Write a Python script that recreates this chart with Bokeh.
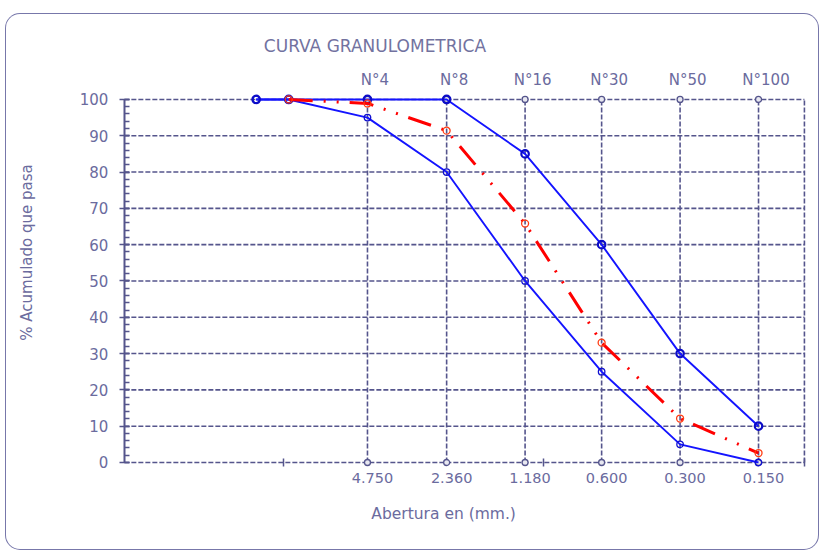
import math
from bokeh.plotting import figure
from bokeh.core.properties import value
from bokeh.models import (Range1d, FixedTicker, SingleIntervalTicker, LabelSet,
                          Label, ColumnDataSource)
from bokeh.embed import file_html
from bokeh.resources import INLINE

# ---------------- data ----------------
title_text = "CURVA GRANULOMETRICA"
x_title = "Abertura en (mm.)"
y_title = "% Acumulado que pasa"

sieve_names = ["N°4", "N°8", "N°16", "N°30", "N°50", "N°100"]
sieve_labels = ["4.750", "2.360", "1.180", "0.600", "0.300", "0.150"]
sieve_mm = [4.75, 2.36, 1.18, 0.60, 0.30, 0.15]

limit_mm = [12.7, 9.525, 4.75, 2.36, 1.18, 0.60, 0.30, 0.15]
upper_limit = [100, 100, 100, 100, 85, 60, 30, 10]
lower_limit = [100, 100, 95, 80, 50, 25, 5, 0]

sample_mm = [9.525, 4.75, 2.36, 1.18, 0.60, 0.30, 0.15]
sample_pass = [100, 98.9, 91.4, 65.8, 33.0, 12.1, 2.6]

y_ticks = [0, 10, 20, 30, 40, 50, 60, 70, 80, 90, 100]
decade_ticks = [10, 1, 0.1]
x_axis_start, x_axis_end = 40.7, 0.1     # extent of the plotting area (mm)
y_lo, y_hi = 0, 100

# ---------------- style ----------------
FONT = "DejaVu Sans"
TEXT = "#6b6b9e"
GRID = "#55558c"
BLUE = "#1414ff"
RED = "#ff0000"

p = figure(width=812, height=535, x_axis_type="log",
           x_range=Range1d(115.3, 0.0883), y_range=Range1d(-23.97, 123.4),
           output_backend="svg", toolbar_location=None,
           min_border=0, min_border_left=0, min_border_right=0,
           min_border_top=0, min_border_bottom=0)
p.styles = {"position": "relative", "top": "14px", "left": "6px",
            "border-radius": "14px", "box-shadow": "0 0 0 1px #7777aa"}
p.outline_line_color = None
p.xgrid.visible = False
p.ygrid.visible = False
p.background_fill_color = None
p.border_fill_color = None

# y axis, placed at the left edge of the plotting area
ya = p.yaxis[0]
ya.fixed_location = x_axis_start
ya.ticker = SingleIntervalTicker(interval=10, num_minor_ticks=5)
ya.bounds = (y_lo, y_hi)
ya.axis_line_color = GRID
ya.axis_line_width = 2
ya.major_tick_line_color = GRID
ya.major_tick_line_width = 1.5
ya.minor_tick_line_color = GRID
ya.minor_tick_line_width = 1.5
ya.major_tick_in = 5
ya.major_tick_out = 5
ya.minor_tick_in = 5
ya.minor_tick_out = 0
ya.major_label_text_font = FONT
ya.major_label_text_font_size = "15px"
ya.major_label_text_color = TEXT
ya.major_label_standoff = 11

# x axis (log, reversed), drawn on the 0 line
xa = p.xaxis[0]
xa.ticker = FixedTicker(ticks=decade_ticks)
xa.fixed_location = y_lo
xa.bounds = (x_axis_end, x_axis_start)
xa.axis_line_color = None
xa.major_tick_line_color = GRID
xa.major_tick_line_width = 1.5
xa.major_tick_in = 4
xa.major_tick_out = 4
xa.minor_tick_line_color = None
xa.major_label_text_color = None
xa.major_label_text_font_size = "1px"

# grid lines (dashed)
p.segment(x0=x_axis_start, x1=x_axis_end, y0=y_ticks, y1=y_ticks,
          line_color=GRID, line_width=1.6, line_dash="5 2")
p.segment(x0=sieve_mm + [x_axis_end], x1=sieve_mm + [x_axis_end],
          y0=y_lo, y1=y_hi, line_color=GRID, line_width=1.6, line_dash="5 2")
# small markers at the ends of the sieve lines
p.scatter(x=sieve_mm + sieve_mm, y=[y_hi] * 6 + [y_lo] * 6, marker="circle",
          size=6, line_color=GRID, line_width=1.3, fill_color="#e8e8f0")

# limit curves
p.line(limit_mm, lower_limit, line_color=BLUE, line_width=1.9)
p.scatter(limit_mm, lower_limit, marker="circle", size=6.5, line_color="#1010d0",
          line_width=1.3, fill_color=None)
p.line(limit_mm, upper_limit, line_color=BLUE, line_width=1.9)
p.scatter(limit_mm, upper_limit, marker="circle", size=7.5, line_color="#0c0cc8",
          line_width=2.2, fill_color=None)

# sample curve
p.line(sample_mm, sample_pass, line_color=RED, line_width=3,
       line_dash="24 11 2 11 2 11")
p.scatter(sample_mm, sample_pass, marker="circle", size=7, line_color="#ff3a10",
          line_width=1.3, fill_color=None)

# texts
src_top = ColumnDataSource(dict(x=sieve_mm, y=[y_hi] * 6, t=sieve_names))
p.add_layout(LabelSet(x="x", y="y", text="t", source=src_top, x_offset=7.5,
                      y_offset=19.5, text_align="center", text_baseline="middle",
                      text_font=value(FONT), text_font_size=value("15px"),
                      text_color=TEXT))
src_bot = ColumnDataSource(dict(x=sieve_mm, y=[y_lo] * 6, t=sieve_labels))
p.add_layout(LabelSet(x="x", y="y", text="t", source=src_bot, x_offset=5,
                      y_offset=-15.5, text_align="center", text_baseline="middle",
                      text_font=value(FONT), text_font_size=value("14.5px"),
                      text_color=TEXT))
p.add_layout(Label(x=sieve_mm[1], y=y_lo, x_offset=-3, y_offset=-52,
                   text=x_title, text_align="center", text_baseline="middle",
                   text_font=FONT, text_font_size="15.5px", text_color=TEXT))
p.add_layout(Label(x=x_axis_start, y=(y_lo + y_hi) / 2, x_offset=-97, y_offset=28.5,
                   angle=math.pi / 2, text=y_title, text_align="center",
                   text_baseline="middle", text_font=FONT, text_font_size="15px",
                   text_color=TEXT))
p.add_layout(Label(x=sieve_mm[0], y=y_hi, x_offset=7.5, y_offset=53.5,
                   text=title_text, text_align="center", text_baseline="middle",
                   text_font=FONT, text_font_size="17px", text_color="#72729f"))

open("out.html", "w").write(file_html(p, INLINE))
